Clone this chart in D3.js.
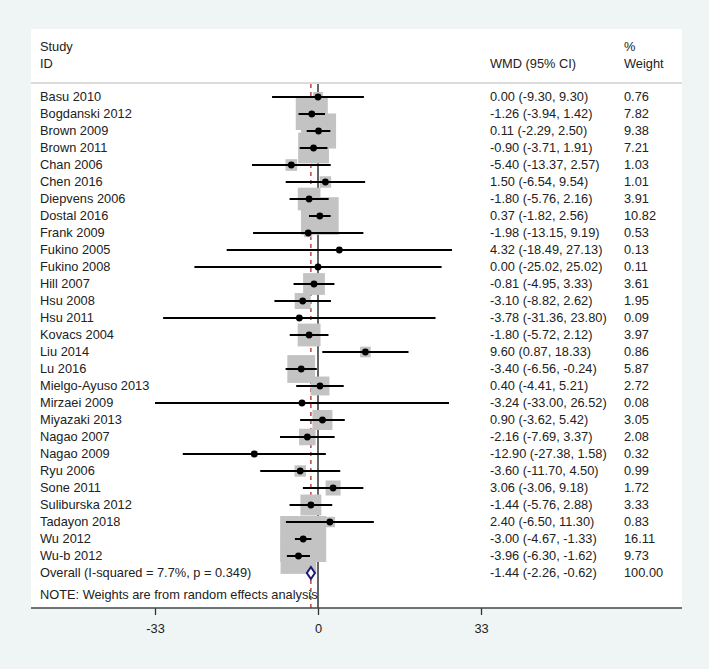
<!DOCTYPE html>
<html>
<head>
<meta charset="utf-8">
<script src="https://cdn.jsdelivr.net/npm/d3@7"></script>
<style>
  html, body { margin: 0; padding: 0; background: #eff4f4; }
  svg { display: block; }
  text { font-family: "Liberation Sans", Arial, sans-serif; fill: #222; }
</style>
</head>
<body>
<svg id="chart" width="709" height="669"></svg>
<script>
const studies = ["Basu 2010","Bogdanski 2012","Brown 2009","Brown 2011","Chan 2006","Chen 2016",
  "Diepvens 2006","Dostal 2016","Frank 2009","Fukino 2005","Fukino 2008","Hill 2007","Hsu 2008",
  "Hsu 2011","Kovacs 2004","Liu 2014","Lu 2016","Mielgo-Ayuso 2013","Mirzaei 2009","Miyazaki 2013",
  "Nagao 2007","Nagao 2009","Ryu 2006","Sone 2011","Suliburska 2012","Tadayon 2018","Wu 2012","Wu-b 2012"];
const estimates = [0.00,-1.26,0.11,-0.90,-5.40,1.50,-1.80,0.37,-1.98,4.32,0.00,-0.81,-3.10,-3.78,-1.80,
  9.60,-3.40,0.40,-3.24,0.90,-2.16,-12.90,-3.60,3.06,-1.44,2.40,-3.00,-3.96];
const lower = [-9.30,-3.94,-2.29,-3.71,-13.37,-6.54,-5.76,-1.82,-13.15,-18.49,-25.02,-4.95,-8.82,-31.36,
  -5.72,0.87,-6.56,-4.41,-33.00,-3.62,-7.69,-27.38,-11.70,-3.06,-5.76,-6.50,-4.67,-6.30];
const upper = [9.30,1.42,2.50,1.91,2.57,9.54,2.16,2.56,9.19,27.13,25.02,3.33,2.62,23.80,2.12,18.33,
  -0.24,5.21,26.52,5.42,3.37,1.58,4.50,9.18,2.88,11.30,-1.33,-1.62];
const weights = [0.76,7.82,9.38,7.21,1.03,1.01,3.91,10.82,0.53,0.13,0.11,3.61,1.95,0.09,3.97,0.86,5.87,
  2.72,0.08,3.05,2.08,0.32,0.99,1.72,3.33,0.83,16.11,9.73];
const overallLabel = "Overall  (I-squared = 7.7%, p = 0.349)";
const overall = { est: -1.44, lo: -2.26, hi: -0.62, weight: 100.00 };
const tickValues = [-33, 0, 33];
const tickLabels = ["-33", "0", "33"];
const noteText = "NOTE: Weights are from random effects analysis";

const svg = d3.select("#chart");
const panel = { left: 31, right: 682, top: 29, bottom: 608 };
const fs = 12.8;

// white panel
svg.append("rect").attr("x", panel.left).attr("y", panel.top)
  .attr("width", panel.right - panel.left).attr("height", panel.bottom - panel.top)
  .attr("fill", "#fff");

const x = d3.scaleLinear().domain([-33, 33]).range([155, 481]);
const rows = [...studies, "__overall"];
const y = d3.scalePoint().domain(rows).range([97, 573]);
const box = d3.scaleSqrt().domain([0, 16.11]).range([0, 46]);

const colStudy = 40, colWMD = 490, colW = 624;

// header
const hdr = svg.append("g").attr("font-size", fs);
hdr.append("text").attr("x", colStudy).attr("y", 47).attr("dy", "0.35em").text("Study");
hdr.append("text").attr("x", colStudy).attr("y", 64).attr("dy", "0.35em").text("ID");
hdr.append("text").attr("x", colWMD).attr("y", 64).attr("dy", "0.35em").text("WMD (95% CI)");
hdr.append("text").attr("x", colW).attr("y", 47).attr("dy", "0.35em").text("%");
hdr.append("text").attr("x", colW).attr("y", 64).attr("dy", "0.35em").text("Weight");

svg.append("line").attr("x1", panel.left).attr("x2", panel.right).attr("y1", 83).attr("y2", 83)
  .attr("stroke", "#cfcfcf").attr("stroke-width", 1.5);

// reference lines (beneath boxes)
svg.append("line").attr("x1", x(0)).attr("x2", x(0)).attr("y1", 84).attr("y2", panel.bottom)
  .attr("stroke", "#111").attr("stroke-width", 1.3);
svg.append("line").attr("x1", x(overall.est)).attr("x2", x(overall.est)).attr("y1", 84).attr("y2", panel.bottom)
  .attr("stroke", "#b01515").attr("stroke-width", 1.2).attr("stroke-dasharray", "4,4");

const data = studies.map((s, i) => ({ s, est: estimates[i], lo: lower[i], hi: upper[i], w: weights[i] }));

// boxes
svg.append("g").selectAll("rect").data(data).join("rect")
  .attr("x", d => x(d.est) - box(d.w) / 2)
  .attr("y", d => y(d.s) - box(d.w) / 2)
  .attr("width", d => box(d.w)).attr("height", d => box(d.w))
  .attr("fill", "#c3c3c3");

// CI lines
svg.append("g").selectAll("line").data(data).join("line")
  .attr("x1", d => x(d.lo)).attr("x2", d => x(d.hi))
  .attr("y1", d => y(d.s)).attr("y2", d => y(d.s))
  .attr("stroke", "#000").attr("stroke-width", 2);

// points
svg.append("g").selectAll("path").data(data).join("path")
  .attr("transform", d => `translate(${x(d.est)},${y(d.s)})`)
  .attr("d", d3.symbol().type(d3.symbolCircle).size(36))
  .attr("fill", "#000");

// overall diamond
const yo = y("__overall");
svg.append("path")
  .attr("d", `M${x(overall.lo)},${yo} L${x(overall.est)},${yo - 6} L${x(overall.hi)},${yo} L${x(overall.est)},${yo + 6} Z`)
  .attr("fill", "#fff").attr("stroke", "#1a1a78").attr("stroke-width", 2);

// text columns
const tg = svg.append("g").attr("font-size", fs);
const fmt = v => v.toFixed(2);
tg.selectAll("text.st").data(data).join("text").attr("class", "st")
  .attr("x", colStudy).attr("y", d => y(d.s)).attr("dy", "0.35em").text(d => d.s);
tg.selectAll("text.ci").data(data).join("text").attr("class", "ci")
  .attr("x", colWMD).attr("y", d => y(d.s)).attr("dy", "0.35em")
  .text(d => `${fmt(d.est)} (${fmt(d.lo)}, ${fmt(d.hi)})`);
tg.selectAll("text.wt").data(data).join("text").attr("class", "wt")
  .attr("x", colW).attr("y", d => y(d.s)).attr("dy", "0.35em").text(d => fmt(d.w));

tg.append("text").attr("x", colStudy).attr("y", yo).attr("dy", "0.35em").text(overallLabel);
tg.append("text").attr("x", colWMD).attr("y", yo).attr("dy", "0.35em")
  .text(`${fmt(overall.est)} (${fmt(overall.lo)}, ${fmt(overall.hi)})`);
tg.append("text").attr("x", colW).attr("y", yo).attr("dy", "0.35em").text(fmt(overall.weight));
tg.append("text").attr("x", colStudy).attr("y", 595).attr("dy", "0.35em").text(noteText);

// axis
const axis = d3.axisBottom(x).tickValues(tickValues).tickSize(7).tickSizeOuter(0)
  .tickFormat((d, i) => tickLabels[i]);
const ag = svg.append("g").attr("transform", `translate(0,${panel.bottom})`).call(axis);
ag.select(".domain").remove();
ag.selectAll(".tick line").attr("stroke", "#333").attr("stroke-width", 1.3);
ag.selectAll(".tick text").attr("font-size", fs).attr("y", 16).attr("font-family", null).style("fill", "#222");
svg.append("line").attr("x1", panel.left).attr("x2", panel.right).attr("y1", panel.bottom).attr("y2", panel.bottom)
  .attr("stroke", "#444").attr("stroke-width", 1.6);
</script>
</body>
</html>
